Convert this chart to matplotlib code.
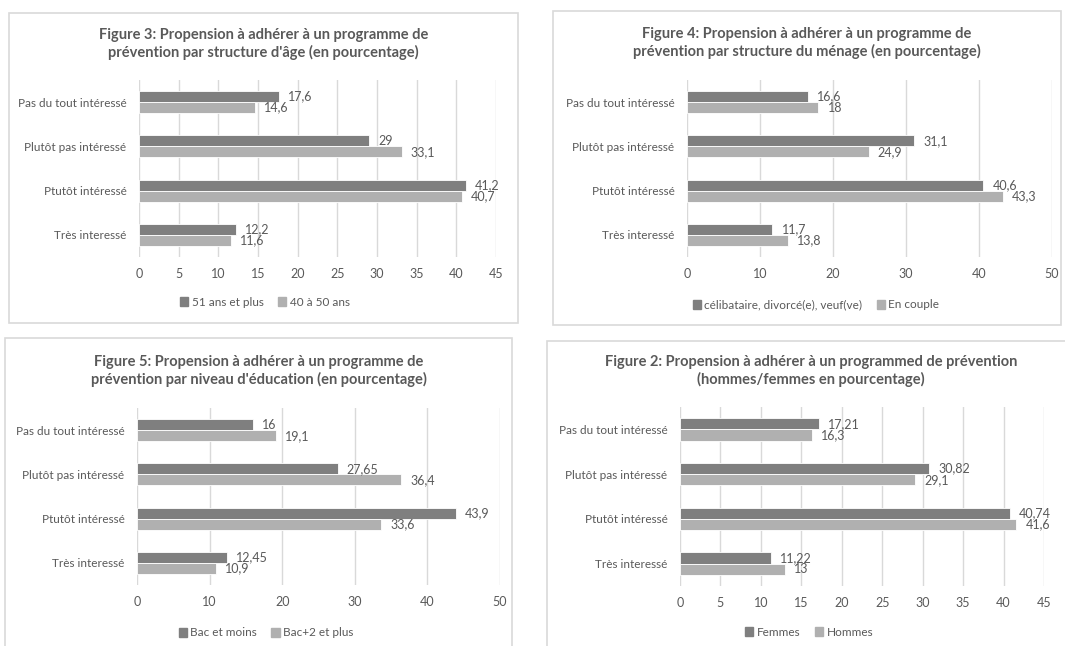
import matplotlib
matplotlib.use("Agg")
import matplotlib.pyplot as plt
from matplotlib.patches import Rectangle, Patch
import numpy as np

plt.rcParams['font.family'] = ['Lato', 'DejaVu Sans']

W, H = 1065, 646

categories = ["Pas du tout intéressé", "Plutôt pas intéressé", "Ptutôt intéressé", "Très interessé"]

# Figure 3 - age
fig3_title = "Figure 3: Propension à adhérer à un programme de\nprévention par structure d'âge (en pourcentage)"
fig3_series = ["51 ans et plus", "40 à 50 ans"]
fig3_a = [17.6, 29, 41.2, 12.2]
fig3_b = [14.6, 33.1, 40.7, 11.6]
fig3_a_lbl = ["17,6", "29", "41,2", "12,2"]
fig3_b_lbl = ["14,6", "33,1", "40,7", "11,6"]

# Figure 4 - household
fig4_title = "Figure 4: Propension à adhérer à un programme de\nprévention par structure du ménage (en pourcentage)"
fig4_series = ["célibataire, divorcé(e), veuf(ve)", "En couple"]
fig4_a = [16.6, 31.1, 40.6, 11.7]
fig4_b = [18, 24.9, 43.3, 13.8]
fig4_a_lbl = ["16,6", "31,1", "40,6", "11,7"]
fig4_b_lbl = ["18", "24,9", "43,3", "13,8"]

# Figure 5 - education
fig5_title = "Figure 5: Propension à adhérer à un programme de\nprévention par niveau d'éducation (en pourcentage)"
fig5_series = ["Bac et moins", "Bac+2 et plus"]
fig5_a = [16, 27.65, 43.9, 12.45]
fig5_b = [19.1, 36.4, 33.6, 10.9]
fig5_a_lbl = ["16", "27,65", "43,9", "12,45"]
fig5_b_lbl = ["19,1", "36,4", "33,6", "10,9"]

# Figure 2 - gender
fig2_title = "Figure 2: Propension à adhérer à un programmed de prévention\n(hommes/femmes en pourcentage)"
fig2_series = ["Femmes", "Hommes"]
fig2_a = [17.21, 30.82, 40.74, 11.22]
fig2_b = [16.3, 29.1, 41.6, 13]
fig2_a_lbl = ["17,21", "30,82", "40,74", "11,22"]
fig2_b_lbl = ["16,3", "29,1", "41,6", "13"]

DARK = "#7f7f7f"
LIGHT = "#b0b0b0"
TXT = "#595959"
GRID = "#d9d9d9"

fig = plt.figure(figsize=(W / 100, H / 100), dpi=100)


def fx(x):
    return x / W


def fy(y):
    return 1 - y / H


def panel(box, axbox, title, title_y, leg_xy, series, a, b, a_lbl, b_lbl, xmax, step):
    l, t, r, bt = box
    fig.patches.append(Rectangle((fx(l), fy(bt)), fx(r - l), (bt - t) / H,
                                 transform=fig.transFigure, fill=False,
                                 edgecolor=GRID, lw=1.2, zorder=0))
    fig.text(fx((l + r) / 2), fy(title_y), title, ha='center', va='center',
             fontsize=10.5, fontweight='bold', color=TXT, linespacing=1.3)

    al, at, ar, ab = axbox
    ax = fig.add_axes([fx(al), fy(ab), fx(ar - al), (ab - at) / H])
    y = np.arange(len(categories))
    h = 0.25
    ax.barh(y - h / 2, a, height=h, color=DARK, edgecolor='white', lw=0.6, zorder=3)
    ax.barh(y + h / 2, b, height=h, color=LIGHT, edgecolor='white', lw=0.6, zorder=3)
    off = xmax * 0.025
    for i in range(len(categories)):
        ax.text(a[i] + off, y[i] - h / 2, a_lbl[i], va='center', ha='left',
                fontsize=9, color=TXT)
        ax.text(b[i] + off, y[i] + h / 2, b_lbl[i], va='center', ha='left',
                fontsize=9, color=TXT)
    ax.set_xlim(0, xmax)
    ax.set_ylim(3.5, -0.5)
    ax.set_xticks(np.arange(0, xmax + 0.1, step))
    ax.set_yticks(y)
    ax.set_yticklabels(categories)
    ax.tick_params(length=0, labelsize=8.5, colors=TXT)
    ax.tick_params(axis='x', pad=8, labelsize=9)
    ax.tick_params(axis='y', pad=9)
    ax.grid(axis='x', color=GRID, lw=1, zorder=0)
    for s in ax.spines.values():
        s.set_visible(False)
    ax.set_facecolor('none')

    handles = [Patch(color=DARK, label=series[0]), Patch(color=LIGHT, label=series[1])]
    fig.legend(handles=handles, loc='center', bbox_to_anchor=(fx(leg_xy[0]), fy(leg_xy[1])),
               ncol=2, frameon=False, fontsize=8.5, labelcolor=TXT,
               handlelength=0.7, handleheight=0.7, handletextpad=0.3, columnspacing=1.2)


panel((9, 13, 518, 323), (139, 80, 496, 257), fig3_title, 44, (265, 302),
      fig3_series, fig3_a, fig3_b, fig3_a_lbl, fig3_b_lbl, 45, 5)
panel((553, 11, 1061, 325), (687, 80, 1052, 257), fig4_title, 43, (816, 305),
      fig4_series, fig4_a, fig4_b, fig4_a_lbl, fig4_b_lbl, 50, 10)
panel((5, 338, 512, 660), (137, 408, 500, 585), fig5_title, 371, (266, 633),
      fig5_series, fig5_a, fig5_b, fig5_a_lbl, fig5_b_lbl, 50, 10)
panel((547, 341, 1075, 660), (680, 407, 1044, 586), fig2_title, 371, (809, 632),
      fig2_series, fig2_a, fig2_b, fig2_a_lbl, fig2_b_lbl, 45, 5)

fig.savefig("out.png", dpi=100)
